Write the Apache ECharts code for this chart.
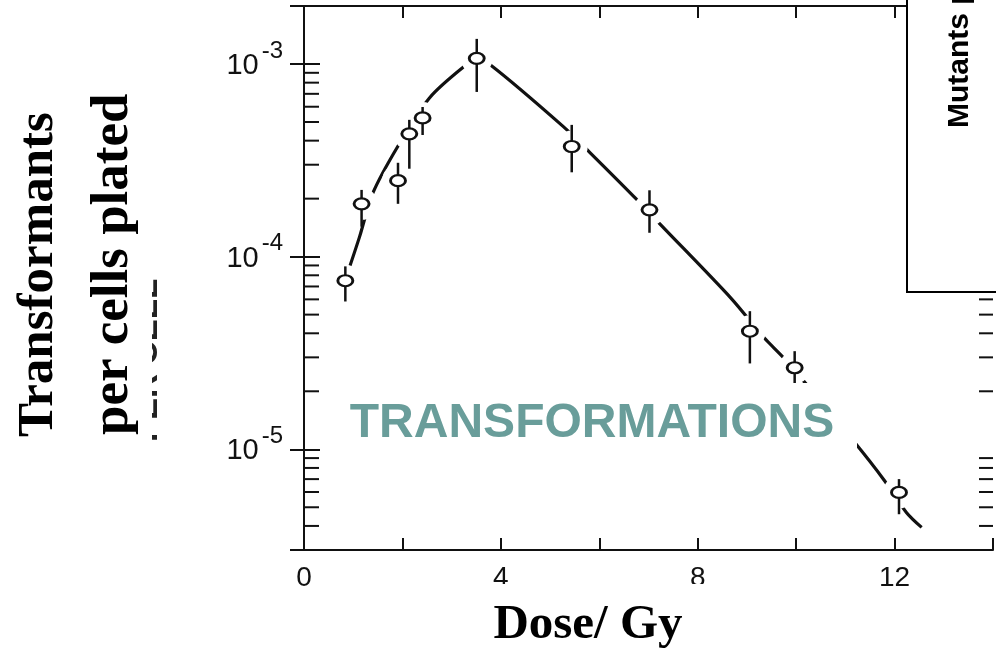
<!DOCTYPE html>
<html>
<head>
<meta charset="utf-8">
<script src="https://cdn.jsdelivr.net/npm/echarts@6/dist/echarts.min.js"></script>
<style>
html,body{margin:0;padding:0;background:#fff;}
#chart{width:996px;height:648px;}
</style>
</head>
<body>
<div id="chart"></div>
<script>
// ---- data ----
const dose    = [0.84, 1.17, 1.91, 2.14, 2.41, 3.51, 5.44, 7.02, 9.06, 9.97, 12.09];
const freq    = [7.5e-5, 1.88e-4, 2.48e-4, 4.34e-4, 5.25e-4, 1.07e-3, 3.73e-4, 1.75e-4, 4.10e-5, 2.65e-5, 5.97e-6];
const errHigh = [8.9e-5, 2.22e-4, 3.07e-4, 5.13e-4, 5.98e-4, 1.35e-3, 4.83e-4, 2.21e-4, 5.21e-5, 3.23e-5, 7.0e-6];
const errLow  = [5.85e-5, 1.43e-4, 1.88e-4, 2.86e-4, 4.28e-4, 7.16e-4, 2.74e-4, 1.33e-4, 2.79e-5, 2.17e-5, 4.6e-6];

const fitDose = [0.84, 1.13, 1.40, 1.905, 2.545, 3.25, 3.51, 3.79, 5.27, 5.81, 6.77, 7.23, 8.67, 9.35, 9.78, 11.17, 11.80, 12.24, 12.55];
const fitFreq = [7.6e-5, 1.27e-4, 2.14e-4, 3.73e-4, 6.64e-4, 9.68e-4, 1.05e-3, 9.88e-4, 4.73e-4, 3.47e-4, 1.97e-4, 1.48e-4, 6.11e-5, 3.79e-5, 2.92e-5, 1.10e-5, 6.85e-6, 4.70e-6, 3.93e-6];

const xTickLabels = [0, 4, 8, 12];
const yMinorTicks = [3e-6, 4e-6, 5e-6, 6e-6, 7e-6, 8e-6, 9e-6,
                     2e-5, 3e-5, 4e-5, 5e-5, 6e-5, 7e-5, 8e-5, 9e-5,
                     2e-4, 3e-4, 4e-4, 5e-4, 6e-4, 7e-4, 8e-4, 9e-4];
const xMin = 0, xMax = 14, yMin = 3e-6, yMax = 2e-3;

const INK = '#111';
const chart = echarts.init(document.getElementById('chart'), null, {renderer: 'canvas', width: 996, height: 648});

const pts = dose.map((d, i) => [d, freq[i]]);
const bars = dose.map((d, i) => [d, errLow[i], errHigh[i]]);

function isDecade(v) {
  const l = Math.log10(v);
  return Math.abs(l - Math.round(l)) < 1e-6;
}

const option = {
  animation: false,
  backgroundColor: '#fff',
  grid: {left: 304, right: 0, top: 6, bottom: 98, containLabel: false},
  xAxis: [{
    type: 'value', position: 'bottom', min: xMin, max: xMax, interval: 2,
    axisLine: {show: true, lineStyle: {color: INK, width: 2}},
    axisTick: {show: true, inside: true, length: 12, lineStyle: {color: INK, width: 2}},
    splitLine: {show: false},
    axisLabel: {
      margin: 14, color: INK, fontSize: 28, fontFamily: 'Liberation Sans',
      formatter: v => (xTickLabels.indexOf(v) >= 0 ? String(v) : '')
    }
  }, {
    type: 'value', position: 'top', min: xMin, max: xMax, interval: 2,
    axisLine: {show: true, lineStyle: {color: INK, width: 2}},
    axisTick: {show: true, inside: true, length: 12, lineStyle: {color: INK, width: 2}},
    splitLine: {show: false},
    axisLabel: {show: false}
  }],
  yAxis: [{
    type: 'log', logBase: 10, position: 'left', min: yMin, max: yMax,
    axisLine: {show: true, lineStyle: {color: INK, width: 2}},
    axisTick: {show: true, inside: true, length: 16, lineStyle: {color: INK, width: 2}},
    splitLine: {show: false},
    axisLabel: {
      margin: 21, color: INK,
      formatter: v => isDecade(v) ? '{b|10}{s|-' + (-Math.round(Math.log10(v))) + '}' : '',
      rich: {
        b: {fontSize: 29, fontFamily: 'Liberation Sans', color: INK, padding: [4, 0, 0, 0]},
        s: {fontSize: 24, fontFamily: 'Liberation Sans', color: INK, padding: [0, 0, 26, 3]}
      }
    }
  }, {
    type: 'log', logBase: 10, position: 'right', min: yMin, max: yMax,
    axisLine: {show: false},
    axisTick: {show: true, inside: true, length: 14, lineStyle: {color: INK, width: 2}},
    splitLine: {show: false},
    axisLabel: {show: false}
  }],
  series: [{
    name: 'fit', type: 'line', xAxisIndex: 0, yAxisIndex: 0,
    data: fitDose.map((d, i) => [d, fitFreq[i]]),
    showSymbol: false, smooth: 0.3, silent: true, z: 1,
    lineStyle: {color: INK, width: 3.2}
  }, {
    name: 'halo', type: 'scatter', xAxisIndex: 0, yAxisIndex: 0,
    data: pts, symbol: 'circle', symbolSize: 32, silent: true, z: 2,
    itemStyle: {color: '#fff', opacity: 1}
  }, {
    name: 'errors', type: 'custom', xAxisIndex: 0, yAxisIndex: 0, z: 3, silent: true,
    data: bars,
    renderItem: function (params, api) {
      const lo = api.coord([api.value(0), api.value(1)]);
      const hi = api.coord([api.value(0), api.value(2)]);
      return {type: 'line', shape: {x1: lo[0], y1: lo[1], x2: hi[0], y2: hi[1]},
              style: {stroke: INK, lineWidth: 2.5}};
    }
  }, {
    name: 'points', type: 'scatter', xAxisIndex: 0, yAxisIndex: 0,
    data: pts, symbol: 'circle', symbolSize: [15, 11], z: 4,
    itemStyle: {color: '#fff', borderColor: INK, borderWidth: 2.5, opacity: 1}
  }, {
    name: 'minorTicks', type: 'custom', xAxisIndex: 0, yAxisIndex: 0, z: 5, silent: true,
    data: yMinorTicks.map(v => [xMin, v]),
    renderItem: function (params, api) {
      const l = api.coord([xMin, api.value(1)]);
      const r = api.coord([xMax, api.value(1)]);
      return {type: 'group', children: [
        {type: 'line', shape: {x1: l[0], y1: l[1], x2: l[0] + 15, y2: l[1]}, style: {stroke: INK, lineWidth: 2}},
        {type: 'line', shape: {x1: r[0] - 14, y1: r[1], x2: r[0], y2: r[1]}, style: {stroke: INK, lineWidth: 2}}
      ]};
    }
  }],
  graphic: [
    // ghost fragment of an older label
    {type: 'text', z: 101, x: 148, y: 442, rotation: Math.PI / 2,
     style: {text: 'PER CELL', font: 'bold 33px "Liberation Sans"', fill: '#222', align: 'left', verticalAlign: 'middle'}},
    {type: 'rect', z: 102, shape: {x: 100, y: 260, width: 52, height: 200}, style: {fill: '#fff'}},
    // y axis title
    {type: 'text', z: 103, x: 39, y: 437, rotation: Math.PI / 2,
     style: {text: 'Transformants', font: 'bold 51px "Liberation Serif"', fill: '#000', align: 'left', verticalAlign: 'middle'}},
    {type: 'text', z: 103, x: 113, y: 435, rotation: Math.PI / 2,
     style: {text: 'per cells plated', font: 'bold 53px "Liberation Serif"', fill: '#000', align: 'left', verticalAlign: 'middle'}},
    // TRANSFORMATIONS label
    {type: 'rect', z: 104, shape: {x: 335, y: 383, width: 522, height: 72}, style: {fill: '#fff'}},
    {type: 'text', z: 105, x: 592, y: 424,
     style: {text: 'TRANSFORMATIONS', font: 'bold 48px "Liberation Sans"', fill: '#699d9a', align: 'center', verticalAlign: 'middle'}},
    // x axis title
    {type: 'rect', z: 104, shape: {x: 470, y: 584, width: 250, height: 64}, style: {fill: '#fff'}},
    {type: 'text', z: 105, x: 588, y: 625,
     style: {text: 'Dose/ Gy', font: 'bold 49px "Liberation Serif"', fill: '#000', align: 'center', verticalAlign: 'middle'}},
    // overlapping inset panel
    {type: 'rect', z: 106, shape: {x: 907, y: -4, width: 100, height: 296}, style: {fill: '#fff', stroke: '#000', lineWidth: 2}},
    {type: 'text', z: 107, x: 960, y: 128, rotation: Math.PI / 2,
     style: {text: 'Mutants per cell', font: 'bold 30px "Liberation Sans"', fill: '#000', align: 'left', verticalAlign: 'middle'}}
  ]
};
chart.setOption(option);
</script>
</body>
</html>
